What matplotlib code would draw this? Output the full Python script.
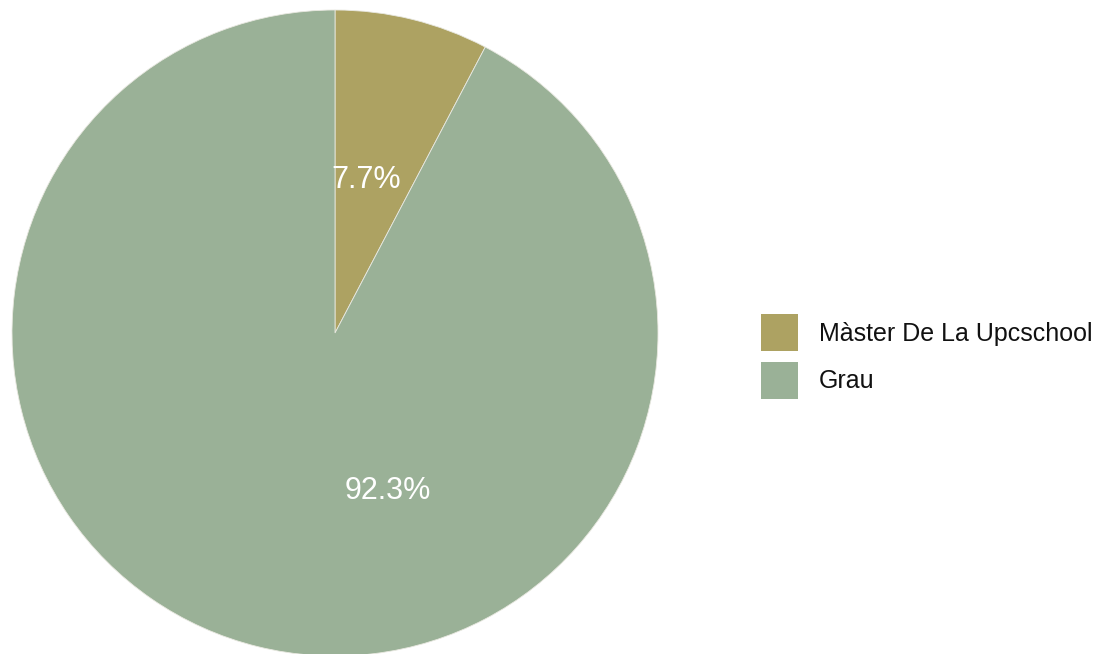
import matplotlib
matplotlib.use('Agg')
import matplotlib.pyplot as plt
from matplotlib.patches import Rectangle

plt.rcParams['font.family'] = ['Liberation Sans', 'DejaVu Sans']

labels = ['Màster De La Upcschool', 'Grau']
values = [7.7, 92.3]
colors = ['#ada262', '#9ab197']

W, H = 1102, 654
fig = plt.figure(figsize=(W / 100, H / 100), dpi=100)

# pie centre ~ (335, 333) px, radius ~ 323 px
cx, cy, r = 335, 333, 323
ax = fig.add_axes([(cx - r) / W, (H - cy - r) / H, 2 * r / W, 2 * r / H])
wedges, texts, autotexts = ax.pie(values, colors=colors, startangle=90, counterclock=False,
                                  autopct='%1.1f%%', pctdistance=0.49, radius=1,
                                  wedgeprops=dict(edgecolor='#e8e8e0', linewidth=0.6),
                                  textprops=dict(color='white', fontsize=22))
ax.set_xlim(-1, 1)
ax.set_ylim(-1, 1)
ax.set_aspect('equal')
ax.axis('off')

# label positions as in the reference
autotexts[0].set_position(((366 - cx) / r, (cy - 180) / r))
autotexts[1].set_position(((388 - cx) / r, (cy - 491) / r))
for t in autotexts:
    t.set_va('center')
    t.set_ha('center')

# legend drawn by hand: 37px squares, 48px row pitch
sq, x0, y0, pitch = 37, 761, 314, 48
for i, (lab, c) in enumerate(zip(labels, colors)):
    top = y0 + i * pitch
    fig.add_artist(Rectangle((x0 / W, 1 - (top + sq) / H), sq / W, sq / H,
                             transform=fig.transFigure, facecolor=c, edgecolor='none'))
    fig.text((x0 + sq + 21) / W, 1 - (top + sq / 2 + 1) / H, lab,
             fontsize=18, va='center', ha='left', color='#111111')

fig.savefig('out.png', dpi=100)
